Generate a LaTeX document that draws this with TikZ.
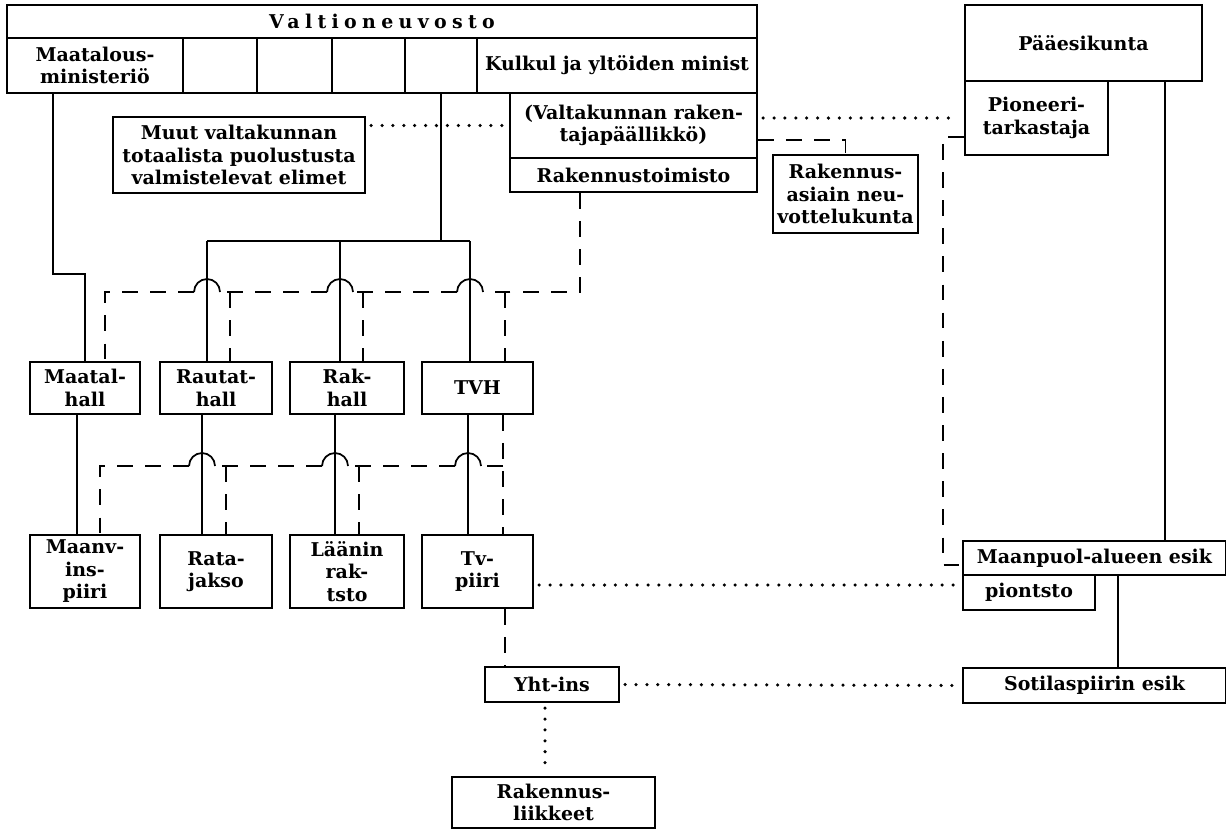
\documentclass[tikz,border=0pt]{standalone}
\usepackage{fontspec}
\setmainfont{DejaVu Serif}
\usetikzlibrary{positioning}

\begin{document}
\begin{tikzpicture}[
  x=0.02cm, y=-0.02cm,
  box/.style={draw, line width=1pt, align=center, inner sep=1pt,
              font=\fontsize{10.8}{12.8}\selectfont\bfseries},
  line/.style={line width=1pt},
  dashline/.style={line width=1pt, dash pattern=on 9pt off 7pt},
  dotline/.style={line width=2pt, line cap=round, dash pattern=on 0pt off 6.2pt,
                  shorten >=3pt, shorten <=3pt}
]
\useasboundingbox (0,0) rectangle (1226,829);

\node[box, minimum width=15cm, minimum height=0.66cm] (vn) at (382,21.5) {\addfontfeature{LetterSpace=28}Valtioneuvosto};
\node[box, minimum width=3.52cm, minimum height=1.1cm] (mm) at (95,65.5) {Maatalous-\\ministeriö};
\node[box, minimum width=1.48cm, minimum height=1.1cm] (b1) at (220,65.5) {};
\node[box, minimum width=1.5cm, minimum height=1.1cm] (b2) at (294.5,65.5) {};
\node[box, minimum width=1.46cm, minimum height=1.1cm] (b3) at (368.5,65.5) {};
\node[box, minimum width=1.44cm, minimum height=1.1cm] (b4) at (441,65.5) {};
\node[box, minimum width=5.6cm, minimum height=1.1cm] (kym) at (617,65.5) {Kulkul ja yltöiden minist};
\node[box, minimum width=4.94cm, minimum height=1.3cm] (vrp) at (633.5,125.5) {(Valtakunnan raken-\\tajapäällikkö)};
\node[box, minimum width=4.94cm, minimum height=0.68cm] (rto) at (633.5,175) {Rakennustoimisto};
\node[box, minimum width=5.04cm, minimum height=1.52cm] (muut) at (239,155) {Muut valtakunnan\\totaalista puolustusta\\valmistelevat elimet};
\node[box, minimum width=2.9cm, minimum height=1.56cm] (rna) at (845.5,194) {Rakennus-\\asiain neu-\\vottelukunta};

\node[box, minimum width=4.74cm, minimum height=1.52cm] (pe) at (1083.5,43) {Pääesikunta};
\node[box, minimum width=2.86cm, minimum height=1.48cm] (pt) at (1036.5,118) {Pioneeri-\\tarkastaja};

\node[box, minimum width=2.2cm, minimum height=1.04cm] (maatal) at (85,388) {Maatal-\\hall};
\node[box, minimum width=2.24cm, minimum height=1.04cm] (rautat) at (216,388) {Rautat-\\hall};
\node[box, minimum width=2.28cm, minimum height=1.04cm] (rakh) at (347,388) {Rak-\\hall};
\node[box, minimum width=2.22cm, minimum height=1.04cm] (tvh) at (477.5,388) {TVH};

\node[box, minimum width=2.2cm, minimum height=1.46cm] (maanv) at (85,571.5) {Maanv-\\ins-\\piiri};
\node[box, minimum width=2.24cm, minimum height=1.46cm] (rata) at (216,571.5) {Rata-\\jakso};
\node[box, minimum width=2.28cm, minimum height=1.46cm] (laanin) at (347,571.5) {Läänin\\rak-\\tsto};
\node[box, minimum width=2.22cm, minimum height=1.46cm] (tv) at (477.5,571.5) {Tv-\\piiri};

\node[box, minimum width=2.68cm, minimum height=0.7cm] (yht) at (552,684.5) {Yht-ins};
\node[box, minimum width=4.06cm, minimum height=1.02cm] (rl) at (553.5,802.5) {Rakennus-\\liikkeet};

\node[box, minimum width=5.26cm, minimum height=0.68cm] (mpa) at (1094.5,558) {Maanpuol-alueen esik};
\node[box, minimum width=2.64cm, minimum height=0.7cm] (pio) at (1029,592.5) {piontsto};
\node[box, minimum width=5.26cm, minimum height=0.7cm] (sot) at (1094.5,685.5) {Sotilaspiirin esik};

% solid lines
\coordinate (j1) at (53,274);
\draw[line] (mm.south -| j1) -- (j1) -- (j1 -| maatal.north) -- (maatal.north);
\coordinate (bl) at (207,241);
\coordinate (bm) at (340,241);
\coordinate (br) at (470,241);
\draw[line] (b4.south) -- (b4.south |- bl);
\draw[line] (bl) -- (br);
\draw[line] (bl) -- (bl |- rautat.north);
\draw[line] (bm) -- (bm |- rakh.north);
\draw[line] (br) -- (br |- tvh.north);
\foreach \sx/\ta/\tb in {77/maatal/maanv, 202/rautat/rata, 335/rakh/laanin, 468/tvh/tv} {
  \coordinate (ss) at (\sx,490);
  \draw[line] (\ta.south -| ss) -- (\tb.north -| ss);
}
\coordinate (p3) at (1165,300);
\draw[line] (pe.south -| p3) -- (mpa.north -| p3);
\coordinate (p4) at (1118,620);
\draw[line] (mpa.south -| p4) -- (sot.north -| p4);

% dashed lines
\coordinate (d1) at (580,292);
\coordinate (d2) at (105,292);
\draw[dashline] (rto.south -| d1) -- (d1) -- ++(-97,0) ++(-26,0) -- ++(-104,0) ++(-26,0)
  -- ++(-107,0) ++(-26,0) -- (d2) -- (d2 |- maatal.north);
\foreach \hx in {207,340,470}
  \draw[line] (\hx+13,292) arc[start angle=0, end angle=180, radius=0.26cm];
\foreach \dx/\bx in {230/rautat, 363/rakh, 505/tvh} {
  \coordinate (dd) at (\dx,292);
  \draw[dashline] (dd) -- (dd |- \bx.north);
}
\coordinate (f1) at (503,466);
\coordinate (f2) at (100,466);
\draw[dashline] (tvh.south -| f1) -- (f1) -- (f1 |- tv.north);
\draw[dashline] (f1) -- ++(-22,0) ++(-26,0) -- ++(-107,0) ++(-26,0)
  -- ++(-107,0) ++(-26,0) -- (f2) -- (f2 |- maanv.north);
\foreach \hx in {202,335,468}
  \draw[line] (\hx+13,466) arc[start angle=0, end angle=180, radius=0.26cm];
\foreach \dx/\bx in {226/rata, 359/laanin} {
  \coordinate (dd) at (\dx,466);
  \draw[dashline] (dd) -- (dd |- \bx.north);
}
\coordinate (g1) at (505,640);
\draw[dashline] (tv.south -| g1) -- (yht.north -| g1);
\draw[dashline] ([yshift=-0.29cm]vrp.east) -| (rna.north);
\coordinate (p1) at (943,137);
\coordinate (p2) at (943,565);
\draw[dashline] (pt.west |- p1) -- (p1) -- (p2) -- (p2 -| mpa.west);

% dotted lines
\draw[dotline] (muut.east |- vrp.west) -- (vrp.west);
\draw[dotline] (vrp.east |- pt.west) -- (pt.west);
\coordinate (g3) at (750,585);
\draw[dotline] (tv.east |- g3) -- (pio.west |- g3);
\draw[dotline] (yht.east) -- (sot.west);
\coordinate (g2) at (545,740);
\draw[dotline] (yht.south -| g2) -- (rl.north -| g2);
\end{tikzpicture}
\end{document}
